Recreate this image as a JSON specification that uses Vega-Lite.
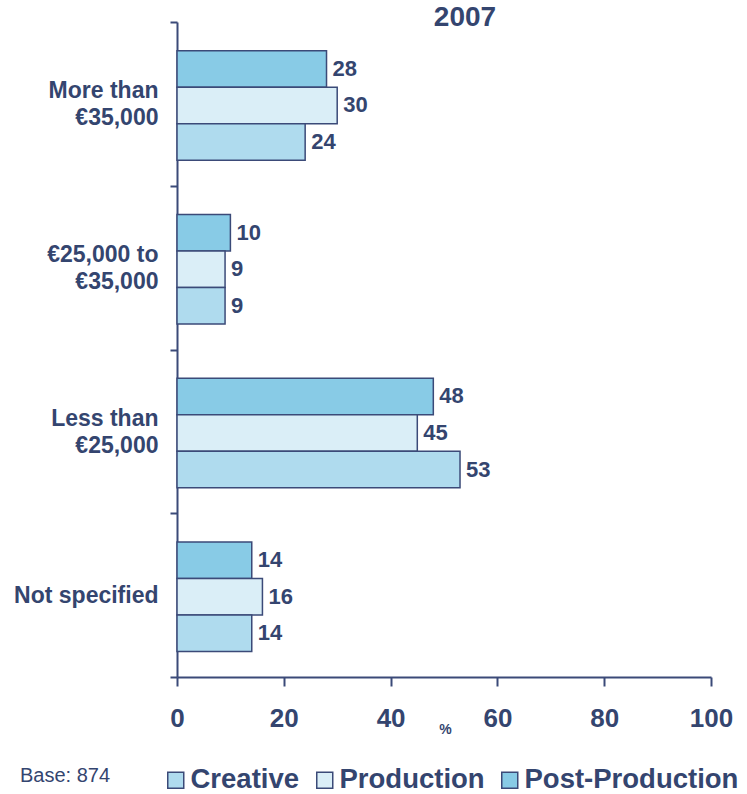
{
  "$schema": "https://vega.github.io/schema/vega-lite/v6.json",
  "width": 534,
  "height": 655,
  "autosize": {"type": "none"},
  "padding": {"left": 177, "top": 22, "right": 36, "bottom": 117},
  "background": "white",
  "config": {"view": {"stroke": null}, "font": "Liberation Sans"},
  "title": {
    "text": "2007",
    "font": "Liberation Sans",
    "fontSize": 28,
    "fontWeight": "bold",
    "color": "#34456F",
    "anchor": "middle",
    "dx": 21,
    "offset": -21,
    "baseline": "top"
  },
  "data": {
    "values": [
      {"band": "More than €35,000", "type": "Post-Production", "pct": 28},
      {"band": "More than €35,000", "type": "Production", "pct": 30},
      {"band": "More than €35,000", "type": "Creative", "pct": 24},
      {"band": "€25,000 to €35,000", "type": "Post-Production", "pct": 10},
      {"band": "€25,000 to €35,000", "type": "Production", "pct": 9},
      {"band": "€25,000 to €35,000", "type": "Creative", "pct": 9},
      {"band": "Less than €25,000", "type": "Post-Production", "pct": 48},
      {"band": "Less than €25,000", "type": "Production", "pct": 45},
      {"band": "Less than €25,000", "type": "Creative", "pct": 53},
      {"band": "Not specified", "type": "Post-Production", "pct": 14},
      {"band": "Not specified", "type": "Production", "pct": 16},
      {"band": "Not specified", "type": "Creative", "pct": 14}
    ]
  },
  "encoding": {
    "y": {
      "field": "band",
      "type": "nominal",
      "sort": ["More than €35,000", "€25,000 to €35,000", "Less than €25,000", "Not specified"],
      "scale": {"paddingInner": 0, "paddingOuter": 0},
      "axis": {
        "title": null,
        "tickBand": "extent",
        "ticks": true,
        "tickSize": 7,
        "tickWidth": 2,
        "tickColor": "#3B4A78",
        "domainColor": "#3B4A78",
        "domainWidth": 2,
        "labelPadding": 12,
        "labelFont": "Liberation Sans",
        "labelFontSize": 23,
        "labelFontWeight": "bold",
        "labelColor": "#34456F",
        "labelLineHeight": 27,
        "labelLimit": 200,
        "labelOffset": {"condition": {"test": "datum.value == 'Not specified'", "value": 0}, "value": -13},
        "labelExpr": "datum.value == 'More than €35,000' ? ['More than', '€35,000'] : datum.value == '€25,000 to €35,000' ? ['€25,000 to', '€35,000'] : datum.value == 'Less than €25,000' ? ['Less than', '€25,000'] : datum.value",
        "grid": false
      }
    },
    "yOffset": {
      "field": "type",
      "type": "nominal",
      "sort": ["Post-Production", "Production", "Creative"],
      "scale": {"paddingInner": 0, "paddingOuter": 0.74, "align": 0.53}
    },
    "x": {
      "field": "pct",
      "type": "quantitative",
      "scale": {"domain": [0, 100], "nice": false},
      "axis": {
        "values": [0, 20, 40, 60, 80, 100],
        "grid": false,
        "tickSize": 9,
        "tickWidth": 2,
        "tickColor": "#3B4A78",
        "domainColor": "#3B4A78",
        "domainWidth": 2,
        "labelFlush": false,
        "labelOverlap": false,
        "labelPadding": 19,
        "labelFont": "Liberation Sans",
        "labelFontSize": 26,
        "labelFontWeight": "bold",
        "labelColor": "#34456F",
        "title": "%",
        "titleFont": "Liberation Sans",
        "titleFontSize": 14,
        "titleFontWeight": "bold",
        "titleColor": "#34456F",
        "titleX": 268,
        "titleY": 56,
        "titleBaseline": "alphabetic"
      }
    }
  },
  "layer": [
    {
      "mark": {"type": "bar", "stroke": "#3B4A78", "strokeWidth": 1.5},
      "encoding": {
        "color": {
          "field": "type",
          "type": "nominal",
          "scale": {
            "domain": ["Creative", "Production", "Post-Production"],
            "range": ["#AFDBEE", "#DAEEF7", "#88CBE6"]
          },
          "legend": {
            "orient": "none",
            "legendX": -157,
            "legendY": 744,
            "direction": "horizontal",
            "title": "Base: 874",
            "titleOrient": "left",
            "titleAnchor": "start",
            "titleBaseline": "top",
            "titleFont": "Liberation Sans",
            "titleFontSize": 20,
            "titleFontWeight": "normal",
            "titleColor": "#34456F",
            "titlePadding": 51,
            "symbolType": "square",
            "symbolSize": 256,
            "symbolStrokeColor": "#3B4A78",
            "symbolStrokeWidth": 1.5,
            "labelFont": "Liberation Sans",
            "labelFontSize": 27.5,
            "labelFontWeight": "bold",
            "labelColor": "#34456F",
            "labelLimit": 300,
            "labelOffset": 1,
            "columnPadding": 11
          }
        }
      }
    },
    {
      "mark": {
        "type": "text",
        "align": "left",
        "baseline": "middle",
        "dx": 6,
        "font": "Liberation Sans",
        "fontSize": 22,
        "fontWeight": "bold",
        "color": "#34456F"
      },
      "encoding": {"text": {"field": "pct", "type": "quantitative"}}
    }
  ]
}
